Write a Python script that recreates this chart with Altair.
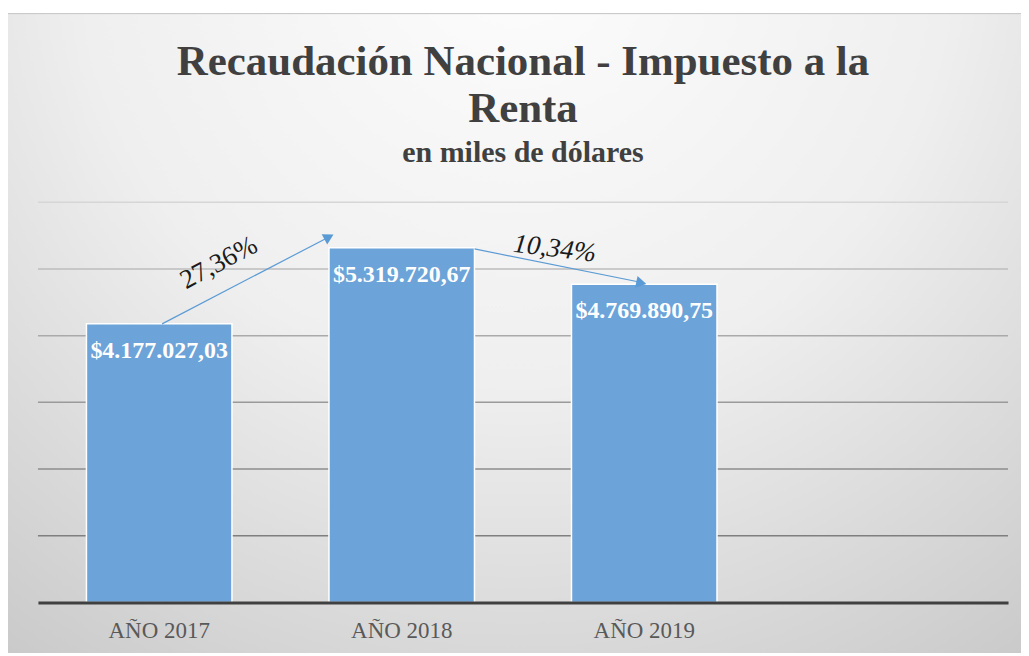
import altair as alt
import pandas as pd

# ---- data ----
categories = ["AÑO 2017", "AÑO 2018", "AÑO 2019"]
all_categories = ["AÑO 2017", "AÑO 2018", "AÑO 2019", ""]
values = [4177027.03, 5319720.67, 4769890.75]
value_labels = ["$4.177.027,03", "$5.319.720,67", "$4.769.890,75"]
grid_values = [1000000, 2000000, 3000000, 4000000, 5000000, 6000000]
pct_labels = ["27,36%", "10,34%"]
title_lines = ["Recaudación Nacional - Impuesto a la", "Renta"]
subtitle = "en miles de dólares"

# ---- styles ----
grid_colors = ["#7f7f7f", "#8c8c8c", "#9a9a9a", "#aaaaaa", "#bdbdbd", "#d6d6d6"]
bar_color = "#6ca3d8"
arrow_color = "#5b9bd5"
SERIF = "'Liberation Serif', 'Times New Roman', serif"
W, H = 972, 401

df = pd.DataFrame({"cat": categories, "value": values, "label": value_labels})
tdf = pd.DataFrame({"t": [title_lines[0], title_lines[1], subtitle],
                    "row": ["l1", "l2", "sub"]})

xscale = alt.Scale(domain=all_categories, paddingInner=0.4, paddingOuter=0.2)
yscale = alt.Scale(domain=[0, 6000000], nice=False, zero=True)

x_axis = alt.Axis(
    title=None, ticks=False, tickSize=0, labelAngle=0, grid=False,
    labelFont=SERIF, labelFontSize=23, labelColor="#595959",
    labelPadding=17, domain=True, domainColor="#404040", domainWidth=3, zindex=1,
)

one = alt.Data(values=[{}])

bg = alt.Chart(one).mark_rect(
    fill=alt.RadialGradient(
        gradient="radial",
        stops=[alt.GradientStop(color="#fdfdfd", offset=0),
               alt.GradientStop(color="#efefef", offset=0.5),
               alt.GradientStop(color="#cacaca", offset=1)],
        x1=0.5, y1=0.12, r1=0.0, x2=0.5, y2=0.12, r2=0.85,
    ),
    stroke="#c4c4c4", strokeWidth=1,
).encode(
    x=alt.value(-30.5), x2=alt.value(990.5), y=alt.value(-189), y2=alt.value(460)
)

t1 = alt.Chart(tdf).transform_filter("datum.row == 'l1'").mark_text(
    font=SERIF, fontSize=43, fontWeight="bold", color="#404040",
    align="center", baseline="alphabetic").encode(
    x=alt.value(W / 2), y=alt.value(-128), text="t:N")
t2 = alt.Chart(tdf).transform_filter("datum.row == 'l2'").mark_text(
    font=SERIF, fontSize=43, fontWeight="bold", color="#404040",
    align="center", baseline="alphabetic").encode(
    x=alt.value(W / 2), y=alt.value(-80), text="t:N")
t3 = alt.Chart(tdf).transform_filter("datum.row == 'sub'").mark_text(
    font=SERIF, fontSize=30, fontWeight="bold", color="#404040",
    align="center", baseline="alphabetic").encode(
    x=alt.value(W / 2), y=alt.value(-40), text="t:N")

grid = alt.Chart(pd.DataFrame({"g": grid_values})).mark_rule(strokeWidth=1.5).encode(
    y=alt.Y("g:Q", scale=yscale, axis=None),
    color=alt.Color("g:O", scale=alt.Scale(domain=grid_values, range=grid_colors), legend=None),
    x=alt.value(0), x2=alt.value(W),
)

bars = alt.Chart(df).mark_bar(color=bar_color, stroke="white", strokeWidth=1.5).encode(
    x=alt.X("cat:N", scale=xscale, axis=x_axis, sort=all_categories),
    y=alt.Y("value:Q", scale=yscale, axis=None),
)

bar_text = alt.Chart(df).mark_text(
    font=SERIF, fontWeight="bold", fontSize=24, color="white",
    baseline="middle", align="center", dy=27,
).encode(
    x=alt.X("cat:N", scale=xscale),
    y=alt.Y("value:Q", scale=yscale),
    text="label:N",
)

# arrows between bars
a1 = pd.DataFrame({"from": [categories[0]], "to": [categories[1]],
                   "y0": [values[0]], "y1": [5480000]})
a2 = pd.DataFrame({"from": [categories[1]], "to": [categories[2]],
                   "y0": [5300000], "y1": [4790000]})

arrow1 = alt.Chart(a1).mark_rule(color=arrow_color, strokeWidth=1.2).encode(
    x=alt.X("from:N", scale=xscale, bandPosition=0.52),
    x2=alt.X2("to:N", bandPosition=0),
    y=alt.Y("y0:Q", scale=yscale), y2="y1:Q",
)
arrow2 = alt.Chart(a2).mark_rule(color=arrow_color, strokeWidth=1.2).encode(
    x=alt.X("from:N", scale=xscale, bandPosition=1),
    x2=alt.X2("to:N", bandPosition=0.5),
    y=alt.Y("y0:Q", scale=yscale), y2="y1:Q",
)
head1 = alt.Chart(a1).mark_point(shape="triangle-up", filled=True, size=140, angle=62,
                                 color=arrow_color, opacity=1).encode(
    x=alt.X("to:N", scale=xscale, bandPosition=0.0),
    y=alt.Y("y1:Q", scale=yscale),
)
head2 = alt.Chart(a2).mark_point(shape="triangle-up", filled=True, size=140, angle=102,
                                 color=arrow_color, opacity=1).encode(
    x=alt.X("to:N", scale=xscale, bandPosition=0.48),
    y=alt.Y("y1:Q", scale=yscale),
)

p1 = pd.DataFrame({"cat": [categories[0]], "v": [5090000], "t": [pct_labels[0]]})
p2 = pd.DataFrame({"cat": [categories[1]], "v": [5450000], "t": [pct_labels[1]]})
pct1 = alt.Chart(p1).mark_text(font=SERIF, fontSize=27, color="#1a1a1a",
                               angle=332, align="center", baseline="middle").encode(
    x=alt.X("cat:N", scale=xscale, bandPosition=0.91),
    y=alt.Y("v:Q", scale=yscale), text="t:N",
)
pct2 = alt.Chart(p2).mark_text(font=SERIF, fontSize=27, fontStyle="italic",
                               color="#1a1a1a", angle=7, align="center",
                               baseline="middle", dx=81).encode(
    x=alt.X("cat:N", scale=xscale, bandPosition=1),
    y=alt.Y("v:Q", scale=yscale), text="t:N",
)

chart = alt.layer(bg, t1, t2, t3, grid, bars, bar_text, arrow1, arrow2, head1, head2,
                  pct1, pct2).properties(
    width=W, height=H,
    autosize=alt.AutoSizeParams(type="none"),
    padding={"left": 30, "top": 194, "right": 13, "bottom": 50},
).configure_view(stroke=None).configure(background="white")

chart.save("out.html", embed_options={"renderer": "svg", "actions": False})
